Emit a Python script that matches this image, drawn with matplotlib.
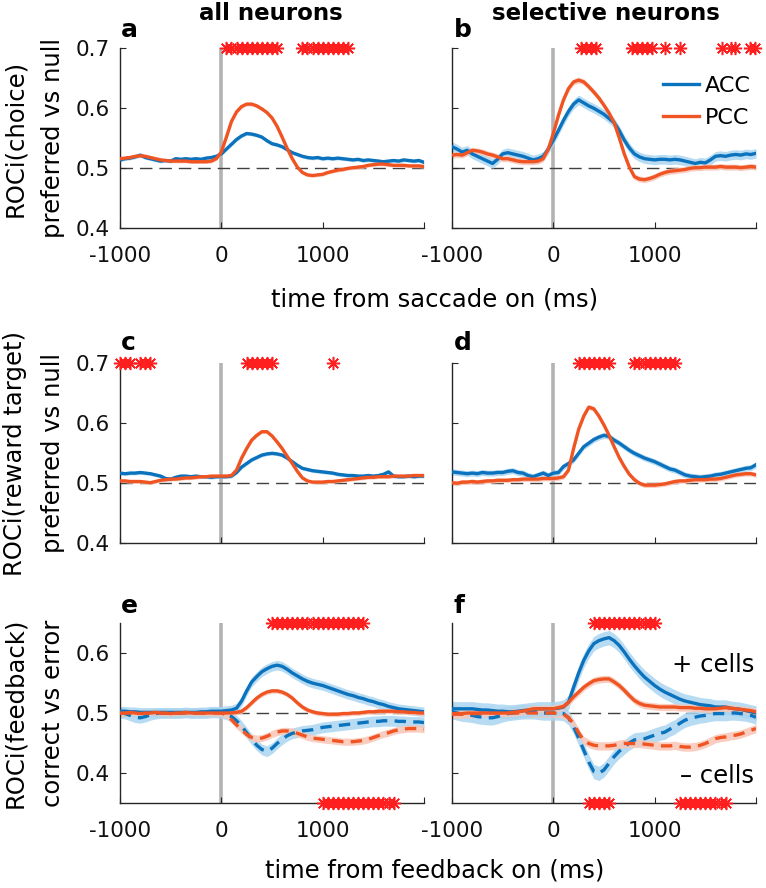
import numpy as np
import matplotlib
matplotlib.use('Agg')
import matplotlib.pyplot as plt

# time axis (ms), 50 ms bins
t = list(range(-1000, 2001, 50))

# --- a: choice, all neurons ---
a_acc = [.514, .516, .517, .519, .522, .518, .516, .514, .512, .513, .512, .516, .515, .516, .515, .516,
         .515, .517, .518, .520, .524, .532, .540, .548, .554, .558, .557, .555, .552, .546, .541, .539,
         .536, .531, .526, .523, .520, .518, .517, .518, .516, .517, .516, .517, .516, .515, .514, .515,
         .513, .514, .513, .512, .511, .512, .513, .512, .514, .513, .512, .513, .510]
a_pcc = [.516, .517, .518, .520, .521, .520, .518, .516, .514, .513, .512, .512, .512, .512, .511, .511,
         .511, .511, .512, .516, .527, .552, .578, .594, .603, .607, .607, .604, .599, .593, .584, .570,
         .552, .533, .516, .502, .493, .489, .488, .489, .490, .493, .495, .497, .498, .500, .501, .502,
         .503, .505, .506, .507, .507, .506, .505, .505, .505, .504, .504, .504, .503]

# --- b: choice, selective neurons ---
b_acc = [.536, .532, .527, .530, .524, .520, .516, .512, .508, .515, .524, .526, .524, .522, .520, .517,
         .514, .516, .520, .532, .547, .563, .580, .595, .607, .614, .609, .604, .600, .595, .590, .583,
         .576, .563, .547, .534, .524, .519, .516, .515, .514, .515, .515, .514, .515, .514, .512, .510,
         .508, .510, .509, .514, .520, .521, .520, .522, .523, .522, .524, .523, .525]
b_pcc = [.522, .523, .522, .526, .530, .529, .527, .524, .522, .519, .516, .516, .514, .512, .511, .511,
         .511, .512, .516, .532, .558, .588, .614, .633, .644, .647, .644, .636, .627, .617, .605, .592,
         .576, .551, .524, .502, .486, .482, .481, .483, .486, .490, .493, .495, .496, .497, .498, .500,
         .501, .501, .502, .502, .502, .503, .502, .502, .502, .501, .502, .503, .502]

# --- c: reward target, all neurons ---
c_acc = [.517, .516, .517, .517, .518, .517, .516, .514, .512, .508, .507, .510, .512, .512, .511, .512,
         .511, .511, .510, .511, .511, .511, .512, .518, .527, .533, .539, .543, .547, .549, .550, .549,
         .547, .542, .536, .530, .525, .523, .521, .520, .519, .518, .517, .515, .514, .513, .513, .512,
         .512, .513, .512, .513, .515, .519, .512, .511, .511, .512, .511, .512, .512]
c_pcc = [.504, .504, .503, .503, .503, .502, .501, .503, .505, .506, .507, .507, .508, .509, .509, .510,
         .511, .511, .512, .512, .512, .512, .513, .522, .542, .558, .572, .580, .586, .586, .579, .569,
         .558, .545, .533, .520, .509, .504, .502, .502, .502, .503, .503, .504, .505, .506, .507, .508,
         .509, .510, .510, .511, .511, .511, .512, .512, .512, .512, .513, .513, .513]

# --- d: reward target, selective neurons ---
d_acc = [.519, .518, .517, .516, .517, .516, .518, .517, .517, .518, .518, .520, .521, .518, .517, .513,
         .511, .514, .517, .513, .517, .518, .528, .533, .539, .550, .561, .567, .573, .577, .580, .578,
         .572, .567, .561, .555, .550, .546, .542, .539, .536, .532, .528, .524, .522, .518, .514, .512,
         .511, .510, .511, .512, .514, .515, .517, .519, .521, .523, .525, .526, .531]
d_pcc = [.501, .500, .502, .502, .503, .502, .503, .504, .504, .505, .505, .505, .506, .506, .507, .507,
         .507, .507, .508, .508, .508, .509, .511, .522, .558, .590, .612, .627, .624, .612, .597, .580,
         .561, .543, .528, .515, .506, .500, .497, .497, .497, .498, .499, .501, .503, .504, .504, .505,
         .506, .506, .506, .507, .507, .508, .510, .512, .514, .515, .516, .516, .514]

# --- e: feedback, all neurons (+ cells solid, - cells dashed) ---
e_acc_pos = [.503, .503, .502, .502, .501, .501, .501, .501, .501, .501, .501, .501, .501, .501, .501, .501,
             .502, .502, .503, .503, .503, .504, .505, .508, .520, .537, .552, .561, .569, .574, .578, .580,
             .578, .573, .567, .562, .557, .553, .550, .548, .546, .543, .540, .537, .534, .531, .529, .526,
             .524, .521, .519, .516, .514, .511, .509, .507, .506, .505, .504, .503, .502]
e_pcc_pos = [.500, .500, .501, .500, .499, .500, .500, .501, .500, .500, .499, .500, .500, .501, .500, .500,
             .500, .500, .500, .500, .500, .500, .500, .501, .503, .509, .517, .525, .531, .535, .537, .537,
             .535, .531, .525, .517, .510, .505, .502, .500, .499, .498, .498, .498, .499, .499, .500, .500,
             .501, .502, .502, .503, .503, .503, .503, .502, .502, .501, .501, .500, .500]
e_acc_neg = [.501, .499, .496, .493, .492, .494, .497, .499, .500, .500, .500, .500, .500, .501, .500, .500,
             .500, .500, .501, .501, .500, .498, .494, .487, .478, .467, .456, .446, .439, .436, .441, .449,
             .456, .462, .466, .468, .470, .471, .472, .474, .476, .477, .478, .479, .480, .481, .482, .483,
             .484, .485, .486, .486, .487, .487, .487, .486, .486, .485, .485, .485, .484]
e_pcc_neg = [.500, .500, .500, .500, .500, .500, .500, .500, .500, .500, .500, .500, .500, .500, .500, .500,
             .500, .500, .500, .500, .500, .497, .489, .480, .472, .464, .459, .457, .458, .461, .465, .468,
             .470, .470, .469, .466, .463, .460, .458, .457, .456, .455, .454, .453, .452, .452, .452, .453,
             .454, .456, .459, .462, .465, .467, .470, .472, .473, .474, .474, .474, .473]

# --- f: feedback, selective neurons ---
f_acc_pos = [.507, .507, .507, .507, .507, .506, .505, .505, .504, .503, .503, .502, .502, .503, .504, .505,
             .506, .507, .507, .507, .507, .508, .510, .518, .543, .567, .588, .604, .616, .621, .624, .626,
             .621, .613, .602, .590, .579, .569, .560, .553, .546, .540, .535, .531, .527, .523, .520, .518,
             .516, .514, .513, .512, .510, .510, .510, .508, .507, .506, .504, .502, .500]
f_pcc_pos = [.499, .499, .499, .500, .500, .500, .500, .500, .500, .500, .500, .500, .501, .502, .503, .505,
             .507, .507, .507, .507, .507, .509, .511, .518, .527, .535, .543, .549, .554, .556, .557, .557,
             .552, .546, .538, .529, .521, .516, .513, .512, .511, .510, .510, .510, .510, .509, .509, .509,
             .508, .508, .507, .507, .507, .508, .509, .508, .507, .506, .505, .504, .502]
f_acc_neg = [.502, .500, .498, .497, .496, .494, .493, .492, .492, .494, .497, .499, .500, .501, .502, .502,
             .502, .501, .500, .500, .500, .500, .499, .492, .477, .458, .438, .418, .402, .399, .405, .416,
             .427, .436, .443, .450, .455, .456, .457, .460, .463, .466, .468, .473, .477, .483, .488, .491,
             .493, .495, .496, .498, .499, .499, .499, .500, .500, .499, .498, .496, .493]
f_pcc_neg = [.498, .498, .498, .499, .499, .499, .500, .500, .500, .500, .500, .500, .500, .500, .500, .500,
             .500, .500, .500, .500, .500, .499, .498, .492, .482, .467, .454, .449, .446, .445, .445, .445,
             .446, .448, .449, .449, .449, .449, .448, .447, .446, .445, .445, .445, .446, .444, .443, .443,
             .444, .446, .449, .453, .457, .459, .460, .462, .463, .465, .468, .471, .474]

# SEM band half-widths per series
sem_a = [0.003, 0.003]
sem_b = [0.008, 0.005]
sem_c = [0.003, 0.003]
sem_d = [0.005, 0.004]
sem_e = [0.008, 0.004, 0.009, 0.006]
sem_f = [0.012, 0.006, 0.012, 0.007]

# significant time bins (ms)
sig_a = [50, 100, 150, 200, 250, 300, 350, 400, 450, 500, 550,
         800, 850, 900, 950, 1000, 1050, 1100, 1150, 1200, 1250]
sig_b = [275, 325, 375, 425, 775, 825, 875, 925, 975, 1100, 1250, 1660, 1750, 1790, 1940, 1990]
sig_c = [-1000, -950, -900, -800, -750, -700, 250, 300, 350, 400, 450, 500, 1100]
sig_d = [250, 300, 350, 400, 450, 500, 550, 800, 850, 900, 950, 1000, 1050, 1100, 1150, 1200]
sig_e_top = list(range(500, 1401, 50))
sig_e_bot = list(range(1000, 1701, 50))
sig_f_top = list(range(400, 1001, 50))
sig_f_bot = [350, 400, 450, 500, 550] + list(range(1250, 1701, 50))

ACC = '#0b72bd'
PCC = '#f05422'
ACC_BAND = '#a9d5f0'
PCC_BAND = '#f8c6b6'
STAR = '#ff1f1f'

W, H = 766, 888
fig = plt.figure(figsize=(W / 100, H / 100), dpi=100)


def px_axes(x0, y0, x1, y1):
    return fig.add_axes([x0 / W, 1 - y1 / H, (x1 - x0) / W, (y1 - y0) / H])


def style(ax, ylim, yticks, ylabels, xlabels):
    ax.set_xlim(-1000, 2000)
    ax.set_ylim(*ylim)
    ax.set_xticks([-1000, 0, 1000, 2000])
    ax.set_xticklabels(['-1000', '0', '1000', ''] if xlabels else [])
    ax.set_yticks(yticks)
    ax.set_yticklabels([f'{v:.1f}' for v in yticks] if ylabels else [])
    for s in ['top', 'right']:
        ax.spines[s].set_visible(False)
    for s in ['left', 'bottom']:
        ax.spines[s].set_color('#262626')
        ax.spines[s].set_linewidth(1.0)
    ax.tick_params(axis='x', direction='in', length=4, pad=13, labelsize=15.5,
                   color='#262626', labelcolor='#111111')
    ax.tick_params(axis='y', direction='in', length=4, pad=7, labelsize=15.5,
                   color='#262626', labelcolor='#111111')
    ax.axvline(0, color='#b3b3b3', lw=2.6, zorder=1)
    ax.axhline(0.5, color='#404040', lw=1.0, dashes=(9, 5), zorder=1)


def curve(ax, y, sem, color, band, dashed=False):
    y = np.array(y)
    ax.fill_between(t, y - sem, y + sem, color=band, lw=0, alpha=0.85, zorder=2)
    ln, = ax.plot(t, y, color=color, lw=2.4, zorder=3)
    if dashed:
        ln.set_dashes((3.4, 2.2))
    return ln


def stars(ax, times, yv):
    ax.plot(times, [yv] * len(times), ls='none', marker=(8, 2, 0), ms=9.5,
            mec=STAR, mew=1.1, clip_on=False, zorder=4)


L = (120, 424)
R = (452, 756)
rows = [(48.3, 228.3), (363.3, 543.3), (623.3, 802.7)]

ax_a = px_axes(L[0], rows[0][0], L[1], rows[0][1])
ax_b = px_axes(R[0], rows[0][0], R[1], rows[0][1])
ax_c = px_axes(L[0], rows[1][0], L[1], rows[1][1])
ax_d = px_axes(R[0], rows[1][0], R[1], rows[1][1])
ax_e = px_axes(L[0], rows[2][0], L[1], rows[2][1])
ax_f = px_axes(R[0], rows[2][0], R[1], rows[2][1])

top_ticks = [0.4, 0.5, 0.6, 0.7]
fb_ticks = [0.4, 0.5, 0.6]
style(ax_a, (0.4, 0.7), top_ticks, True, True)
style(ax_b, (0.4, 0.7), top_ticks, False, True)
style(ax_c, (0.4, 0.7), top_ticks, True, False)
style(ax_d, (0.4, 0.7), top_ticks, False, False)
style(ax_e, (0.35, 0.65), fb_ticks, True, True)
style(ax_f, (0.35, 0.65), fb_ticks, False, True)

curve(ax_a, a_acc, sem_a[0], ACC, ACC_BAND)
curve(ax_a, a_pcc, sem_a[1], PCC, PCC_BAND)
h_acc = curve(ax_b, b_acc, sem_b[0], ACC, ACC_BAND)
h_pcc = curve(ax_b, b_pcc, sem_b[1], PCC, PCC_BAND)
curve(ax_c, c_acc, sem_c[0], ACC, ACC_BAND)
curve(ax_c, c_pcc, sem_c[1], PCC, PCC_BAND)
curve(ax_d, d_acc, sem_d[0], ACC, ACC_BAND)
curve(ax_d, d_pcc, sem_d[1], PCC, PCC_BAND)
for ax, series, sems in [(ax_e, [e_acc_pos, e_pcc_pos, e_acc_neg, e_pcc_neg], sem_e),
                         (ax_f, [f_acc_pos, f_pcc_pos, f_acc_neg, f_pcc_neg], sem_f)]:
    curve(ax, series[2], sems[2], ACC, ACC_BAND, dashed=True)
    curve(ax, series[3], sems[3], PCC, PCC_BAND, dashed=True)
    curve(ax, series[0], sems[0], ACC, ACC_BAND)
    curve(ax, series[1], sems[1], PCC, PCC_BAND)

stars(ax_a, sig_a, 0.7)
stars(ax_b, sig_b, 0.7)
stars(ax_c, sig_c, 0.7)
stars(ax_d, sig_d, 0.7)
stars(ax_e, sig_e_top, 0.65)
stars(ax_e, sig_e_bot, 0.35)
stars(ax_f, sig_f_top, 0.65)
stars(ax_f, sig_f_bot, 0.35)

ax_b.legend([h_acc, h_pcc], ['ACC', 'PCC'], loc='upper right', bbox_to_anchor=(1.05, 0.96),
            frameon=False, fontsize=16, handlelength=1.6, handletextpad=0.3, labelspacing=0.55)

ax_f.text(1980, 0.58, '+ cells', ha='right', va='center', fontsize=17.5)
ax_f.text(1980, 0.395, '\u2013 cells', ha='right', va='center', fontsize=17.5)


def ftext(x, y, s, **kw):
    fig.text(x / W, 1 - y / H, s, **kw)


ftext(271, 14, 'all neurons', ha='center', va='center', fontsize=16.5, fontweight='bold')
ftext(606, 14, 'selective neurons', ha='center', va='center', fontsize=16.5, fontweight='bold')
for lab, x, y in [('a', 121, 30), ('b', 454, 30), ('c', 121, 343), ('d', 454, 343),
                  ('e', 121, 606), ('f', 454, 606)]:
    ftext(x, y, lab, ha='left', va='center', fontsize=18, fontweight='bold')

ftext(435, 299, 'time from saccade on (ms)', ha='center', va='center', fontsize=17.5)
ftext(435, 870, 'time from feedback on (ms)', ha='center', va='center', fontsize=17.5)

for (y0, y1), l1, l2 in zip(rows, ['ROCi(choice)', 'ROCi(reward target)', 'ROCi(feedback)'],
                            ['preferred vs null', 'preferred vs null', 'correct vs error']):
    yc = (y0 + y1) / 2
    ftext(15, yc, l1, ha='center', va='center', rotation=90, fontsize=17.5)
    ftext(53, yc, l2, ha='center', va='center', rotation=90, fontsize=17.5)

fig.savefig('out.png', dpi=100)
